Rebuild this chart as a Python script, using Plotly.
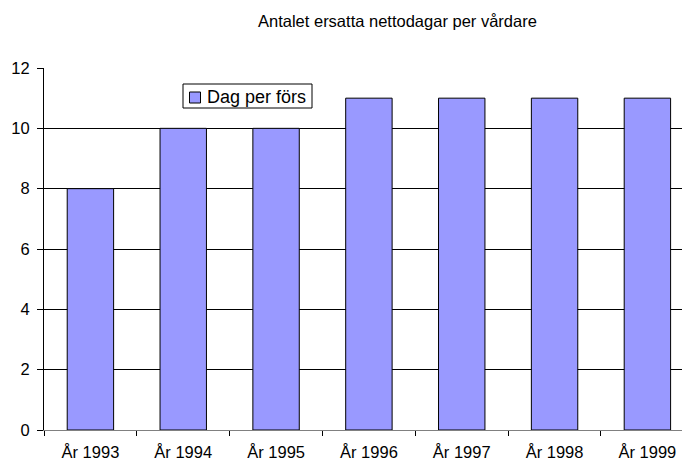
import plotly.graph_objects as go

categories = ["År 1993", "År 1994", "År 1995", "År 1996", "År 1997", "År 1998", "År 1999"]
values = [8, 10, 10, 11, 11, 11, 11]
series_name = "Dag per förs"
title_text = "Antalet ersatta nettodagar per vårdare"

# page body has an 8px margin; figure sized to fit the window
W, H = 682, 454
L, R, T, B = 36, 0, 60, 32
PW, PH = W - L - R, H - T - B
BAR_COLOR = "#9999FF"


def px(fx):
    return (fx - L) / PW


def py(fy):
    return (H - B - fy) / PH


fig = go.Figure()
fig.add_trace(go.Bar(
    x=categories, y=values, name=series_name,
    width=0.5, showlegend=False,
    marker=dict(color=BAR_COLOR, line=dict(color="#000000", width=1)),
))

shapes = [
    dict(type="rect", xref="paper", yref="paper",
         x0=px(175), x1=px(304), y0=py(76), y1=py(100),
         line=dict(color="#000000", width=1), fillcolor="white", layer="above"),
    dict(type="rect", xref="paper", yref="paper",
         x0=px(181.5), x1=px(192.5), y0=py(84), y1=py(95),
         line=dict(color="#000000", width=1), fillcolor=BAR_COLOR, layer="above"),
]

fig.update_layout(
    width=W, height=H,
    margin=dict(l=L, r=R, t=T, b=B, autoexpand=False),
    paper_bgcolor="white", plot_bgcolor="white",
    font=dict(family="Liberation Sans, Arial, sans-serif", size=16.5, color="black"),
    showlegend=False,
    shapes=shapes,
    annotations=[
        dict(text=title_text, x=px(389), y=py(13), xref="paper", yref="paper",
             xanchor="center", yanchor="middle", showarrow=False, font=dict(size=16.5)),
        dict(text=series_name, x=px(197), y=py(88.5), xref="paper", yref="paper",
             xanchor="left", yanchor="middle", showarrow=False, font=dict(size=18)),
    ],
)

fig.update_xaxes(
    range=[-0.5, -0.5 + PW / 92.83],
    showline=True, linecolor="#808080", linewidth=1,
    ticks="outside", tickson="boundaries", ticklen=5, tickcolor="#000000",
    showgrid=False, tickfont=dict(size=16.5), ticklabelstandoff=7,
)
fig.update_yaxes(
    range=[0, 12], dtick=2,
    showline=True, linecolor="#000000", linewidth=1,
    ticks="outside", ticklen=6, tickcolor="#000000",
    showgrid=True, gridcolor="#000000", gridwidth=1,
    zeroline=False, tickfont=dict(size=16.5), ticklabelstandoff=4,
)

fig.write_html("out.html")
